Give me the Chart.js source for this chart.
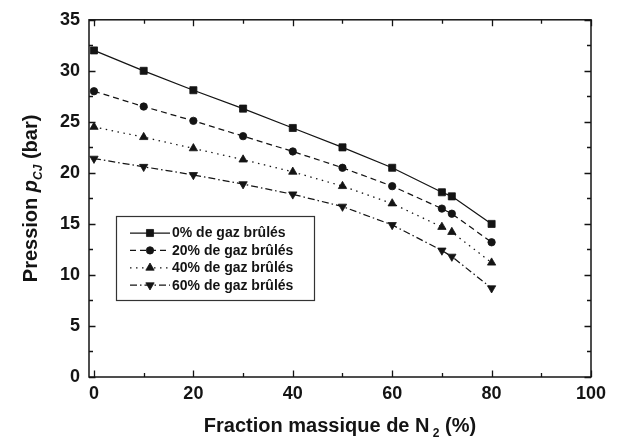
<!DOCTYPE html>
<html>
<head>
<meta charset="utf-8">
<script src="https://cdn.jsdelivr.net/npm/chart.js@4.4.1/dist/chart.umd.min.js"></script>
<style>
  html, body { margin: 0; padding: 0; background: #ffffff; }
  #wrap { width: 621px; height: 445px; position: relative; }
</style>
</head>
<body>
<div id="wrap"><canvas id="c" width="621" height="445"></canvas></div>
<script>
// ---- Data ----
const xValues = [0, 10, 20, 30, 40, 50, 60, 70, 72, 80];
const p0  = [32.0, 30.0, 28.1, 26.3, 24.4, 22.5, 20.5, 18.1, 17.7, 15.0];
const p20 = [28.0, 26.5, 25.1, 23.6, 22.1, 20.5, 18.7, 16.5, 16.0, 13.2];
const p40 = [24.5, 23.5, 22.4, 21.3, 20.1, 18.7, 17.0, 14.7, 14.2, 11.2];
const p60 = [21.4, 20.6, 19.8, 18.9, 17.9, 16.7, 14.9, 12.4, 11.8, 8.7];
const seriesLabels = ['0% de gaz brûlés', '20% de gaz brûlés', '40% de gaz brûlés', '60% de gaz brûlés'];
const xMajorTicks = [0, 20, 40, 60, 80, 100];
const xMinorTicks = [10, 30, 50, 70, 90];
const yMajorTicks = [0, 5, 10, 15, 20, 25, 30, 35];
const yMinorTicks = [2.5, 7.5, 12.5, 17.5, 22.5, 27.5, 32.5];

const INK = '#141414';
const FONT = '"Liberation Sans", Arial, Helvetica, sans-serif';

const styles = [
  { pointStyle: 'rect', radius: 5.0, rotation: 0, dash: [] },
  { pointStyle: 'circle', radius: 3.7, rotation: 0, dash: [6, 4] },
  { pointStyle: 'triangle', radius: 4.8, rotation: 0, dash: [1.5, 4.5] },
  { pointStyle: 'triangle', radius: 4.8, rotation: 180, dash: [7, 3, 1.5, 3] }
];
const allSeries = [p0, p20, p40, p60];

const datasets = allSeries.map((vals, i) => ({
  label: seriesLabels[i],
  data: xValues.map((x, k) => ({ x: x, y: vals[k] })),
  borderColor: INK,
  backgroundColor: INK,
  borderWidth: 1.25,
  borderDash: styles[i].dash,
  pointStyle: styles[i].pointStyle,
  pointRadius: styles[i].radius,
  pointRotation: styles[i].rotation,
  pointBorderWidth: 0.8,
  pointBackgroundColor: INK,
  pointBorderColor: INK,
  showLine: true,
  tension: 0,
  fill: false
}));

function drawMarker(ctx, style, x, y) {
  ctx.save();
  ctx.fillStyle = INK;
  ctx.strokeStyle = INK;
  ctx.lineWidth = 0.8;
  ctx.setLineDash([]);
  const r = style.radius;
  ctx.beginPath();
  if (style.pointStyle === 'rect') {
    const s = r * Math.SQRT1_2;
    ctx.rect(x - s, y - s, 2 * s, 2 * s);
  } else if (style.pointStyle === 'circle') {
    ctx.arc(x, y, r, 0, Math.PI * 2);
  } else {
    let rad = style.rotation * Math.PI / 180;
    ctx.moveTo(x + Math.sin(rad) * r, y - Math.cos(rad) * r);
    rad += 2 * Math.PI / 3;
    ctx.lineTo(x + Math.sin(rad) * r, y - Math.cos(rad) * r);
    rad += 2 * Math.PI / 3;
    ctx.lineTo(x + Math.sin(rad) * r, y - Math.cos(rad) * r);
    ctx.closePath();
  }
  ctx.fill();
  ctx.stroke();
  ctx.restore();
}

const framePlugin = {
  id: 'frameTicks',
  afterDatasetsDraw(chart) {
    const ctx = chart.ctx;
    const a = chart.chartArea;
    const xs = chart.scales.x, ys = chart.scales.y;
    ctx.save();
    ctx.strokeStyle = INK;
    ctx.lineWidth = 1.5;
    ctx.setLineDash([]);
    ctx.strokeRect(a.left, a.top, a.right - a.left, a.bottom - a.top);
    ctx.lineWidth = 1.3;
    const maj = 6.5, min = 4;
    ctx.beginPath();
    xMajorTicks.concat(xMinorTicks).forEach(v => {
      const len = xMajorTicks.includes(v) ? maj : min;
      const px = Math.round(xs.getPixelForValue(v)) + 0.5;
      ctx.moveTo(px, a.bottom); ctx.lineTo(px, a.bottom - len);
      ctx.moveTo(px, a.top); ctx.lineTo(px, a.top + len);
    });
    yMajorTicks.concat(yMinorTicks).forEach(v => {
      const len = yMajorTicks.includes(v) ? maj : min;
      const py = Math.round(ys.getPixelForValue(v)) + 0.5;
      ctx.moveTo(a.left, py); ctx.lineTo(a.left + len, py);
      ctx.moveTo(a.right, py); ctx.lineTo(a.right - len, py);
    });
    ctx.stroke();
    ctx.restore();
  },
  afterDraw(chart) {
    const ctx = chart.ctx;
    const a = chart.chartArea;
    // ---- Legend box ----
    ctx.save();
    const bx = 116, by = 216, bw = 198, bh = 84;
    ctx.fillStyle = '#ffffff';
    ctx.fillRect(bx, by, bw, bh);
    ctx.strokeStyle = '#333';
    ctx.lineWidth = 1.2;
    ctx.setLineDash([]);
    ctx.strokeRect(bx + 0.5, by + 0.5, bw, bh);
    const rowY0 = 233, rowStep = 17.4;
    chart.data.datasets.forEach((ds, i) => {
      const y = rowY0 + i * rowStep;
      ctx.save();
      ctx.strokeStyle = INK;
      ctx.lineWidth = 1.25;
      ctx.setLineDash(styles[i].dash);
      ctx.beginPath();
      ctx.moveTo(130, y); ctx.lineTo(170, y);
      ctx.stroke();
      ctx.restore();
      drawMarker(ctx, styles[i], 150, y);
      ctx.fillStyle = INK;
      ctx.font = 'bold 14px ' + FONT;
      ctx.textAlign = 'left';
      ctx.textBaseline = 'middle';
      ctx.fillText(ds.label, 172, y + 0.5);
    });
    ctx.restore();

    // ---- X axis title ----
    ctx.save();
    ctx.fillStyle = INK;
    ctx.textBaseline = 'alphabetic';
    ctx.textAlign = 'left';
    const fMain = 'bold 20px ' + FONT;
    const fSub = 'bold 12px ' + FONT;
    const partsX = [
      { t: 'Fraction massique de N', f: fMain, dy: 0 },
      { t: ' ', f: fSub, dy: 0 },
      { t: '2', f: fSub, dy: 5 },
      { t: ' (%)', f: fMain, dy: 0 }
    ];
    let tw = 0;
    partsX.forEach(p => { ctx.font = p.f; p.w = ctx.measureText(p.t).width; tw += p.w; });
    let cx = (a.left + a.right) / 2 - tw / 2;
    const baseY = 432;
    partsX.forEach(p => { ctx.font = p.f; ctx.fillText(p.t, cx, baseY + p.dy); cx += p.w; });
    ctx.restore();

    // ---- Y axis title ----
    ctx.save();
    ctx.fillStyle = INK;
    ctx.translate(37, (a.top + a.bottom) / 2);
    ctx.rotate(-Math.PI / 2);
    ctx.textBaseline = 'alphabetic';
    ctx.textAlign = 'left';
    const partsY = [
      { t: 'Pression ', f: fMain, dy: 0 },
      { t: 'p', f: 'italic bold 20px ' + FONT, dy: 0 },
      { t: 'CJ', f: 'italic bold 12px ' + FONT, dy: 5 },
      { t: ' (bar)', f: fMain, dy: 0 }
    ];
    let th = 0;
    partsY.forEach(p => { ctx.font = p.f; p.w = ctx.measureText(p.t).width; th += p.w; });
    let cy = -th / 2;
    partsY.forEach(p => { ctx.font = p.f; ctx.fillText(p.t, cy, p.dy); cy += p.w; });
    ctx.restore();
  }
};

new Chart(document.getElementById('c'), {
  type: 'scatter',
  data: { datasets: datasets },
  options: {
    responsive: false,
    animation: false,
    devicePixelRatio: 1,
    layout: { padding: { left: 0, right: 30, top: 15, bottom: 0 } },
    plugins: { legend: { display: false }, tooltip: { enabled: false }, title: { display: false } },
    elements: { line: { tension: 0 } },
    scales: {
      x: {
        type: 'linear',
        min: -1, max: 100,
        grid: { display: false, drawTicks: false },
        border: { display: false },
        ticks: {
          includeBounds: false,
          stepSize: 20,
          padding: 6,
          color: INK,
          font: { family: FONT, size: 18, weight: 'bold' },
          maxRotation: 0,
          autoSkip: false
        },
        afterFit: s => { s.height = 68; }
      },
      y: {
        type: 'linear',
        min: 0, max: 35,
        grid: { display: false, drawTicks: false },
        border: { display: false },
        ticks: {
          stepSize: 5,
          padding: 9,
          color: INK,
          font: { family: FONT, size: 18, weight: 'bold' },
          autoSkip: false
        },
        afterFit: s => { s.width = 89; }
      }
    }
  },
  plugins: [framePlugin]
});
</script>
</body>
</html>
